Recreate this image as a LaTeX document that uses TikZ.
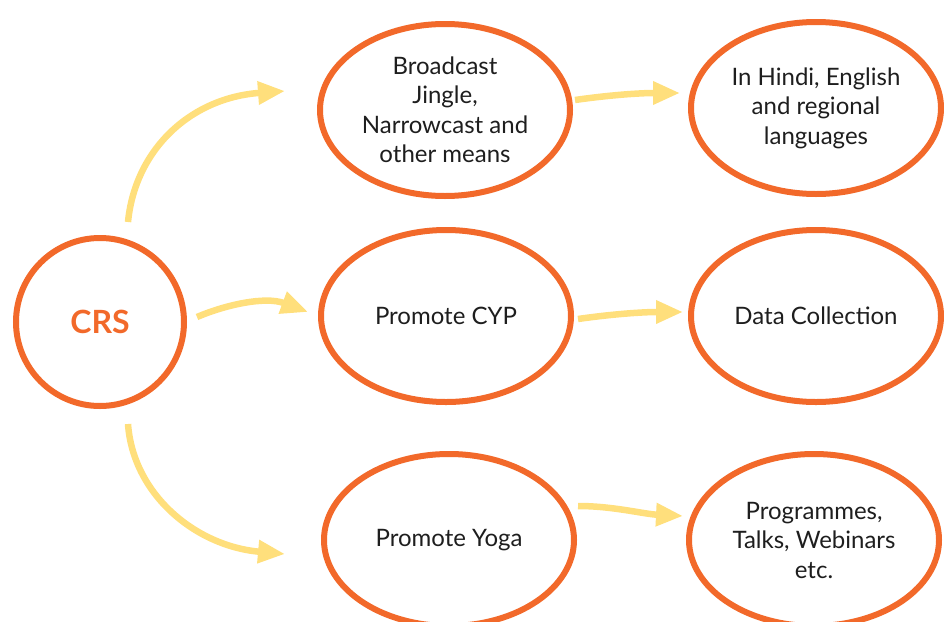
\documentclass[tikz,border=0pt]{standalone}
\usepackage{fontspec}
\setmainfont{Lato}
\usetikzlibrary{shapes.geometric,arrows.meta}
\definecolor{ringorange}{HTML}{F2692A}
\definecolor{arrowyellow}{HTML}{FFDF7C}
\definecolor{inktext}{HTML}{1E1E1E}
\begin{document}
\begin{tikzpicture}[x=1pt,y=-1pt,
  ring/.style={ellipse,draw=ringorange,line width=6pt,inner sep=0pt,
    minimum width=250pt,minimum height=172pt,align=center,text=inktext,
    font=\fontsize{24}{29.5}\selectfont},
  flow/.style={draw=arrowyellow,line width=6.5pt,
    -{Triangle[length=27pt,width=22pt,fill=arrowyellow]}}]
\useasboundingbox (0,0) rectangle (944,621);
% central node
\node[ring,minimum width=168pt,minimum height=168pt,text=ringorange,
  font=\fontsize{32}{36}\bfseries\selectfont] (crs) at (100,322) {CRS};
% second column
\node[ring] (b1) at (445,110) {Broadcast\\Jingle,\\Narrowcast and\\other means};
\node[ring] (m1) at (446,316) {Promote CYP};
\node[ring] (y1) at (449,540) {Promote Yoga};
% third column
\node[ring] (r1) at (816,108) {In Hindi, English\\and regional\\languages};
\node[ring] (r2) at (816,316) {Data Collection};
\node[ring] (r3) at (814,540) {Programmes,\\Talks, Webinars\\etc.};
% connectors from the centre
\draw[flow] ([shift={(28,-100)}]crs.center) .. controls +(7,-72) and +(-95,7) ..
  ([shift={(-160,-19)}]b1.center);
\draw[flow] ([shift={(97,-5)}]crs.center) .. controls +(28,-12) and +(-43,-16) ..
  ([shift={(-138,-4)}]m1.center);
\draw[flow] ([shift={(28,102)}]crs.center) .. controls +(5,70) and +(-90,-8) ..
  ([shift={(-164,14)}]y1.center);
% connectors to the third column
\draw[flow] ([shift={(130,-10)}]b1.center) .. controls +(35,-5) and +(-40,0) ..
  ([shift={(-136,-15)}]r1.center);
\draw[flow] ([shift={(132,3)}]m1.center) .. controls +(35,-5) and +(-40,0) ..
  ([shift={(-133,-4)}]r2.center);
\draw[flow] ([shift={(129,-34)}]y1.center) .. controls +(35,0) and +(-40,-2) ..
  ([shift={(-131,-24)}]r3.center);
\end{tikzpicture}
\end{document}
